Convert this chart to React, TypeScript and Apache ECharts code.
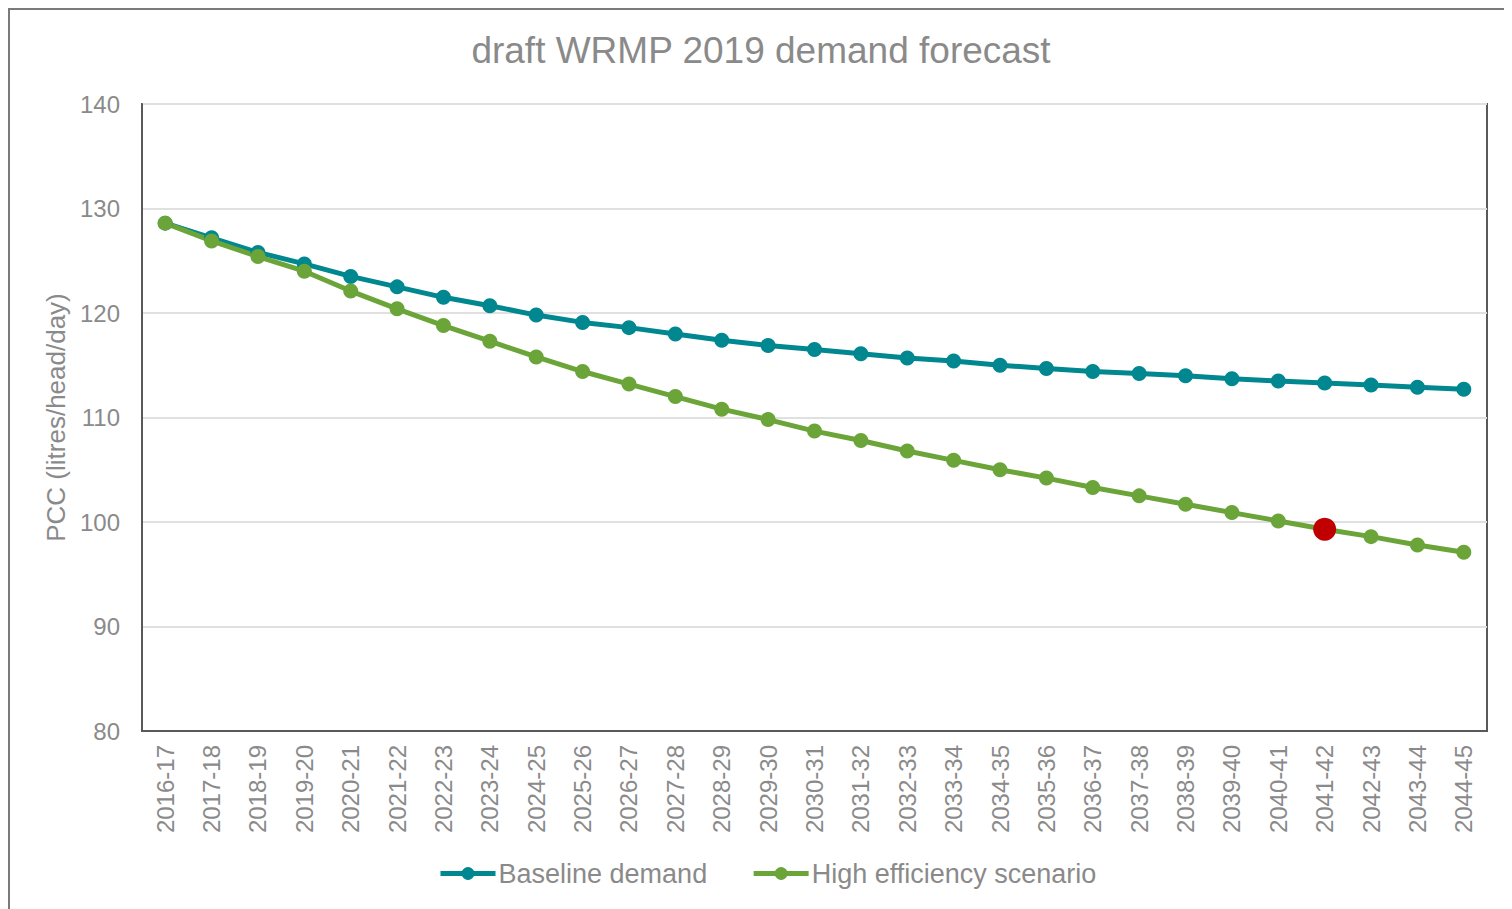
import React, { useEffect, useRef } from "react";
import * as echarts from "echarts";

const categories = [
  "2016-17", "2017-18", "2018-19", "2019-20", "2020-21", "2021-22", "2022-23", "2023-24",
  "2024-25", "2025-26", "2026-27", "2027-28", "2028-29", "2029-30", "2030-31", "2031-32",
  "2032-33", "2033-34", "2034-35", "2035-36", "2036-37", "2037-38", "2038-39", "2039-40",
  "2040-41", "2041-42", "2042-43", "2043-44", "2044-45",
];

const baselineDemand = [
  128.6, 127.2, 125.8, 124.7, 123.5, 122.5, 121.5, 120.7, 119.8, 119.1, 118.6, 118.0, 117.4, 116.9,
  116.5, 116.1, 115.7, 115.4, 115.0, 114.7, 114.4, 114.2, 114.0, 113.7, 113.5, 113.3, 113.1, 112.9, 112.7,
];

const highEfficiency = [
  128.6, 126.9, 125.4, 124.0, 122.1, 120.4, 118.8, 117.3, 115.8, 114.4, 113.2, 112.0, 110.8, 109.8,
  108.7, 107.8, 106.8, 105.9, 105.0, 104.2, 103.3, 102.5, 101.7, 100.9, 100.1, 99.3, 98.6, 97.8, 97.1,
];

const highlightCategory = "2041-42";
const yTicks = [80, 90, 100, 110, 120, 130, 140];

export default function App() {
  const ref = useRef<HTMLDivElement>(null);

  useEffect(() => {
    if (!ref.current) return;
    const chart = echarts.init(ref.current, undefined, { renderer: "svg" });
    const font = "'Liberation Sans', Arial, sans-serif";
    const grey = "#8a8a8a";
    const teal = "#00878F";
    const green = "#6BA539";
    const hiIdx = categories.indexOf(highlightCategory);

    chart.setOption({
      animation: false,
      textStyle: { fontFamily: font },
      title: {
        text: "draft WRMP 2019 demand forecast",
        left: "center",
        top: 17,
        textStyle: { fontFamily: font, fontSize: 37, fontWeight: "normal", color: grey },
      },
      legend: {
        bottom: 17,
        left: 423,
        itemWidth: 55,
        itemHeight: 16,
        itemGap: 44,
        lineStyle: { width: 5 },
        textStyle: { fontFamily: font, fontSize: 27, color: grey, padding: [0, 0, 0, -2] },
        data: ["Baseline demand", "High efficiency scenario"],
      },
      grid: {
        left: 132,
        top: 94,
        right: 25,
        bottom: 178,
        show: true,
        borderColor: "#595959",
        borderWidth: 2,
        containLabel: false,
      },
      xAxis: {
        type: "category",
        data: categories,
        boundaryGap: true,
        axisLine: { show: true, lineStyle: { color: "#595959", width: 2 } },
        axisTick: { show: false },
        axisLabel: { rotate: 90, margin: 14, fontSize: 24, color: grey, fontFamily: font, interval: 0 },
        splitLine: { show: false },
      },
      yAxis: {
        type: "value",
        min: yTicks[0],
        max: yTicks[yTicks.length - 1],
        interval: 10,
        name: "PCC (litres/head/day)",
        nameLocation: "middle",
        nameRotate: 90,
        nameGap: 71,
        nameTextStyle: { fontFamily: font, fontSize: 26, color: grey },
        axisLine: { show: true, lineStyle: { color: "#595959", width: 2 } },
        axisTick: { show: false },
        axisLabel: { margin: 22, fontSize: 24, color: grey, fontFamily: font },
        splitLine: { show: true, lineStyle: { color: "#e0e0e0", width: 2 } },
      },
      series: [
        {
          name: "Baseline demand",
          type: "line",
          data: baselineDemand,
          symbol: "circle",
          symbolSize: 15,
          lineStyle: { color: teal, width: 5 },
          itemStyle: { color: teal },
        },
        {
          name: "High efficiency scenario",
          type: "line",
          data: highEfficiency.map((v, i) =>
            i === hiIdx
              ? { value: v, symbolSize: 23, itemStyle: { color: "#C00000" } }
              : v
          ),
          symbol: "circle",
          symbolSize: 15,
          lineStyle: { color: green, width: 5 },
          itemStyle: { color: green },
          z: 3,
        },
      ],
    });

    return () => chart.dispose();
  }, []);

  return (
    <div
      style={{
        width: 1504,
        height: 901,
        borderTop: "2px solid #7a7a7a",
        borderLeft: "2px solid #7a7a7a",
        boxSizing: "border-box",
        background: "#fff",
      }}
    >
      <div ref={ref} style={{ width: 1502, height: 899 }} />
    </div>
  );
}
